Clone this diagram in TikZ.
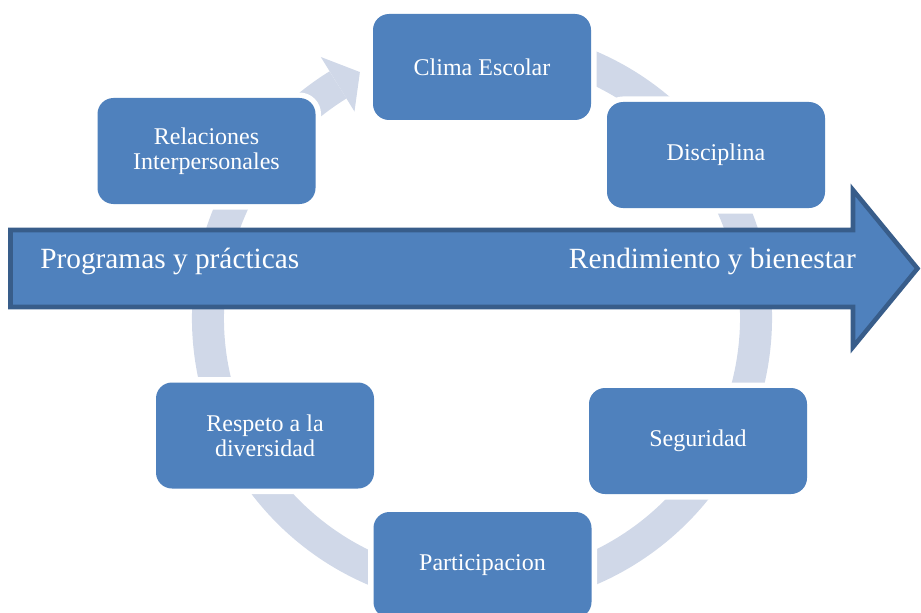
\documentclass[tikz,border=0pt]{standalone}
\usepackage{fontspec}
\setmainfont{Liberation Serif}
\usepackage{xcolor}
\definecolor{boxblue}{HTML}{4F81BD}
\definecolor{boxline}{HTML}{385D8A}
\definecolor{ringgray}{HTML}{D0D8E8}

\begin{document}
\begin{tikzpicture}[
x=0.75pt,
y=0.75pt,
box/.style={fill=boxblue,
rectangle,
rounded corners=12pt,
minimum width=163.5pt,
minimum height=79.5pt,
align=center,
text=white,
font=\fontsize{18}{19}\selectfont,
preaction={draw=white, line width=8.25pt}},
ring/.style={draw=ringgray, line width=24pt},
bigarrow/.style={fill=boxblue, draw=boxline, line width=3.4pt, line join=miter},
bigtext/.style={text=white, inner sep=0pt, font=\fontsize{22}{24}\selectfont}
]

\useasboundingbox (0,0) rectangle (921,612);
\coordinate (c) at (482,294);

\draw[ring] ([shift={(80:274)}]c) arc[start angle=80, end angle=-238.3, radius=274];
\fill[ringgray] ([shift={(121.7:242.7)}]c) -- ([shift={(116.4:274.6)}]c) -- ([shift={(121.7:306.8)}]c) -- cycle;

\draw[bigarrow] (10.5,305) -- (10.5,382) -- (853,382) -- (853,422) -- (917.5,343.5) -- (853,265) -- (853,305) -- cycle;
\node[bigtext, anchor=base west] (inicio) at (40,344) {Programas y prácticas};
\node[bigtext, anchor=base east] (meta) at (856,344) {Rendimiento y bienestar};

\node[box] (clima) at (482,545) {Clima Escolar};
\node[box] (disciplina) at (716,457) {Disciplina};
\node[box] (seguridad) at (698,171) {Seguridad};
\node[box] (participacion) at (482.5,47) {Participacion};
\node[box] (respeto) at (265,176.5) {Respeto a la\\diversidad};
\node[box] (relaciones) at (206.5,461) {Relaciones\\Interpersonales};

\end{tikzpicture}
\end{document}
